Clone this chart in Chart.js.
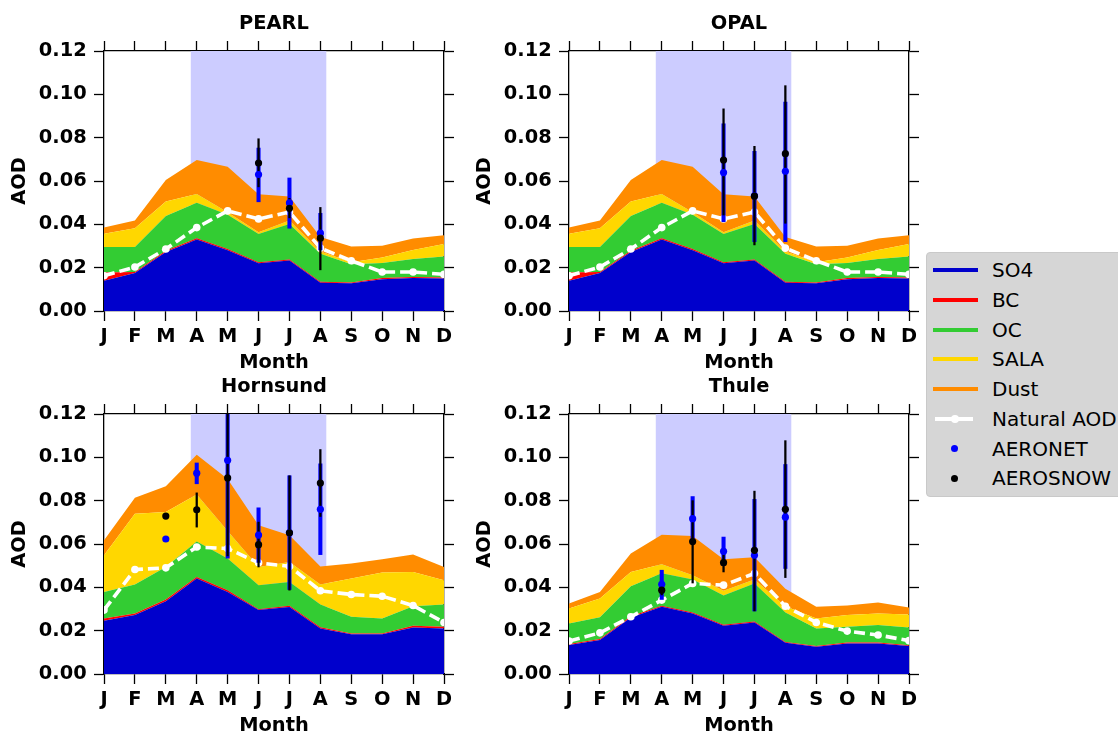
<!DOCTYPE html>
<html>
<head>
<meta charset="utf-8">
<script src="https://cdn.jsdelivr.net/npm/chart.js"></script>
<style>
  html, body { margin:0; padding:0; background:#ffffff; }
  body { width:1118px; height:734px; overflow:hidden; position:relative; font-family:"DejaVu Sans", sans-serif; }
  canvas { position:absolute; }
  #legend { position:absolute; left:926px; top:252px; width:220px; height:245px; background:#d6d6d6;
            border:1px solid #c9c9c9; border-radius:4px; box-sizing:border-box; }
  .row { position:absolute; left:0; width:220px; height:30px; }
  .sw { position:absolute; left:6px; width:45px; height:4px; top:13px; }
  .txt { position:absolute; left:65px; top:0; line-height:30px; font-size:20px; color:#000; white-space:nowrap; }
  .dot { position:absolute; width:7px; height:7px; border-radius:50%; left:24px; top:11.5px; }
</style>
</head>
<body>
<div id="legend"></div>
<script>
// ---------------- data ----------------
const months = ['J','F','M','A','M','J','J','A','S','O','N','D'];
const shadeSpan = [2.8, 7.2];           // shaded season (month index)
const yMax = 0.12;

// Eureka grid cell (PEARL and OPAL share the same model values)
const eurekaSO4  = [0.0140, 0.0175, 0.0272, 0.0330, 0.0280, 0.0220, 0.0233, 0.0130, 0.0128, 0.0147, 0.0152, 0.0150];
const eurekaBC   = [0.0038, 0.0005, 0.0006, 0.0006, 0.0006, 0.0005, 0.0005, 0.0005, 0.0004, 0.0005, 0.0005, 0.0005];
const eurekaOC   = [0.0117, 0.0115, 0.0161, 0.0164, 0.0158, 0.0130, 0.0164, 0.0129, 0.0084, 0.0069, 0.0083, 0.0097];
const eurekaSALA = [0.0061, 0.0087, 0.0066, 0.0040, 0.0012, 0.0009, 0.0016, 0.0011, 0.0009, 0.0026, 0.0042, 0.0057];
const eurekaDust = [0.0029, 0.0036, 0.0100, 0.0157, 0.0210, 0.0175, 0.0110, 0.0066, 0.0073, 0.0054, 0.0053, 0.0041];
const eurekaNatural = [0.0163, 0.0203, 0.0286, 0.0385, 0.0462, 0.0425, 0.0457, 0.0290, 0.0232, 0.0180, 0.0180, 0.0169];

const hornSO4  = [0.0246, 0.0272, 0.0336, 0.0441, 0.0379, 0.0295, 0.0309, 0.0210, 0.0184, 0.0183, 0.0215, 0.0210];
const hornBC   = [0.0010, 0.0007, 0.0008, 0.0007, 0.0008, 0.0004, 0.0006, 0.0006, 0.0003, 0.0004, 0.0008, 0.0008];
const hornOC   = [0.0123, 0.0134, 0.0150, 0.0164, 0.0146, 0.0111, 0.0110, 0.0105, 0.0077, 0.0069, 0.0090, 0.0103];
const hornSALA = [0.0169, 0.0327, 0.0254, 0.0217, 0.0127, 0.0084, 0.0092, 0.0092, 0.0177, 0.0212, 0.0158, 0.0112];
const hornDust = [0.0069, 0.0074, 0.0118, 0.0183, 0.0240, 0.0192, 0.0123, 0.0083, 0.0069, 0.0062, 0.0080, 0.0061];
const hornNatural = [0.0295, 0.0482, 0.0490, 0.0586, 0.0579, 0.0513, 0.0497, 0.0384, 0.0367, 0.0359, 0.0316, 0.0238];

const thuleSO4  = [0.0134, 0.0157, 0.0261, 0.0310, 0.0279, 0.0223, 0.0238, 0.0144, 0.0126, 0.0141, 0.0141, 0.0129];
const thuleBC   = [0.0005, 0.0005, 0.0005, 0.0005, 0.0005, 0.0004, 0.0004, 0.0004, 0.0003, 0.0004, 0.0004, 0.0004];
const thuleOC   = [0.0094, 0.0100, 0.0139, 0.0150, 0.0152, 0.0135, 0.0176, 0.0136, 0.0081, 0.0073, 0.0081, 0.0082];
const thuleSALA = [0.0069, 0.0086, 0.0066, 0.0042, 0.0020, 0.0022, 0.0018, 0.0029, 0.0046, 0.0054, 0.0053, 0.0060];
const thuleDust = [0.0023, 0.0030, 0.0085, 0.0136, 0.0181, 0.0146, 0.0103, 0.0081, 0.0054, 0.0044, 0.0051, 0.0032];
const thuleNatural = [0.0152, 0.0190, 0.0264, 0.0341, 0.0418, 0.0410, 0.0464, 0.0313, 0.0238, 0.0198, 0.0180, 0.0154];

// observations: mean, lower and upper end of the error bar
const pearlAeronet   = [null, null, null, null, null, 0.0630, 0.0499, 0.0359, null, null, null, null];
const pearlAeronetLo = [null, null, null, null, null, 0.0504, 0.0382, 0.0282, null, null, null, null];
const pearlAeronetHi = [null, null, null, null, null, 0.0752, 0.0614, 0.0451, null, null, null, null];
const pearlSnow      = [null, null, null, null, null, 0.0683, 0.0474, 0.0336, null, null, null, null];
const pearlSnowLo    = [null, null, null, null, null, 0.0573, 0.0430, 0.0190, null, null, null, null];
const pearlSnowHi    = [null, null, null, null, null, 0.0795, 0.0520, 0.0478, null, null, null, null];

const opalAeronet   = [null, null, null, null, null, 0.0639, 0.0532, 0.0645, null, null, null, null];
const opalAeronetLo = [null, null, null, null, null, 0.0412, 0.0320, 0.0320, null, null, null, null];
const opalAeronetHi = [null, null, null, null, null, 0.0864, 0.0737, 0.0964, null, null, null, null];
const opalSnow      = [null, null, null, null, null, 0.0697, 0.0530, 0.0726, null, null, null, null];
const opalSnowLo    = [null, null, null, null, null, 0.0443, 0.0305, 0.0405, null, null, null, null];
const opalSnowHi    = [null, null, null, null, null, 0.0933, 0.0760, 0.1040, null, null, null, null];

const hornAeronet   = [null, null, 0.0623, 0.0927, 0.0986, 0.0641, 0.0652, 0.0760, null, null, null, null];
const hornAeronetLo = [null, null, null,   0.0878, 0.0535, 0.0515, 0.0390, 0.0551, null, null, null, null];
const hornAeronetHi = [null, null, null,   0.0974, 0.1430, 0.0767, 0.0915, 0.0970, null, null, null, null];
const hornSnow      = [null, null, 0.0729, 0.0758, 0.0905, 0.0597, 0.0652, 0.0881, null, null, null, null];
const hornSnowLo    = [null, null, null,   0.0678, 0.0545, 0.0494, 0.0387, 0.0727, null, null, null, null];
const hornSnowHi    = [null, null, null,   0.0836, 0.1265, 0.0701, 0.0915, 0.1036, null, null, null, null];

const thuleAeronet   = [null, null, null, 0.0414, 0.0717, 0.0566, 0.0548, 0.0724, null, null, null, null];
const thuleAeronetLo = [null, null, null, 0.0344, 0.0615, 0.0500, 0.0291, 0.0487, null, null, null, null];
const thuleAeronetHi = [null, null, null, 0.0479, 0.0819, 0.0632, 0.0806, 0.0967, null, null, null, null];
const thuleSnow      = [null, null, null, 0.0387, 0.0611, 0.0514, 0.0571, 0.0760, null, null, null, null];
const thuleSnowLo    = [null, null, null, 0.0365, 0.0420, 0.0471, 0.0291, 0.0445, null, null, null, null];
const thuleSnowHi    = [null, null, null, 0.0410, 0.0800, 0.0557, 0.0844, 0.1077, null, null, null, null];

// ---------------- styles ----------------
const COLORS = { SO4:'#0000cc', BC:'#ff0000', OC:'#33cc33', SALA:'#ffd700', Dust:'#ff8c00',
                 shade:'#ccccff', aeronet:'#0000ff', snow:'#000000', natural:'#ffffff' };
const FONT_BOLD = { family:"'DejaVu Sans', sans-serif", size:19.4, weight:'bold' };

const panels = [
  { title:'PEARL', left:0, top:0,
    comps:[eurekaSO4, eurekaBC, eurekaOC, eurekaSALA, eurekaDust], natural:eurekaNatural,
    aer:[pearlAeronet, pearlAeronetLo, pearlAeronetHi], snow:[pearlSnow, pearlSnowLo, pearlSnowHi] },
  { title:'OPAL', left:465, top:0,
    comps:[eurekaSO4, eurekaBC, eurekaOC, eurekaSALA, eurekaDust], natural:eurekaNatural,
    aer:[opalAeronet, opalAeronetLo, opalAeronetHi], snow:[opalSnow, opalSnowLo, opalSnowHi] },
  { title:'Hornsund', left:0, top:363,
    comps:[hornSO4, hornBC, hornOC, hornSALA, hornDust], natural:hornNatural,
    aer:[hornAeronet, hornAeronetLo, hornAeronetHi], snow:[hornSnow, hornSnowLo, hornSnowHi] },
  { title:'Thule', left:465, top:363,
    comps:[thuleSO4, thuleBC, thuleOC, thuleSALA, thuleDust], natural:thuleNatural,
    aer:[thuleAeronet, thuleAeronetLo, thuleAeronetHi], snow:[thuleSnow, thuleSnowLo, thuleSnowHi] }
];
const compNames = ['SO4','BC','OC','SALA','Dust'];

const toRange = (lo, hi) => lo.map((v, i) => (v == null ? null : [v, hi[i]]));

function frameGrid() {
  return { display:true, drawOnChartArea:false, drawTicks:true, tickLength:10, tickWidth:1.3,
           tickColor:'#000', color:'#000', offset:false };
}
const frameBorder = { display:true, color:'#000', width:1.3 };

function makePanel(p) {
  const cv = document.createElement('canvas');
  cv.width = 460; cv.height = 380;
  cv.style.left = p.left + 'px'; cv.style.top = p.top + 'px';
  cv.style.width = '460px'; cv.style.height = '380px';
  document.body.appendChild(cv);

  const datasets = [];
  p.comps.forEach((arr, k) => {
    datasets.push({ type:'line', label:compNames[k], data:arr, stack:'model',
      fill: k === 0 ? 'origin' : '-1', backgroundColor:COLORS[compNames[k]], borderColor:COLORS[compNames[k]],
      borderWidth:0, pointRadius:0, tension:0, order:50, xAxisID:'x', yAxisID:'y' });
  });
  datasets.push({ type:'line', label:'Natural AOD', data:p.natural, borderColor:COLORS.natural,
    borderWidth:3.6, borderDash:[11,5], pointRadius:3.8, pointBackgroundColor:COLORS.natural,
    pointBorderWidth:0, fill:false, tension:0, order:10, clip:0, xAxisID:'x', yAxisID:'y' });
  datasets.push({ type:'bar', label:'AERONET err', data:toRange(p.aer[1], p.aer[2]), backgroundColor:COLORS.aeronet,
    borderWidth:0, barThickness:3.4, grouped:false, order:4, clip:0, xAxisID:'x', yAxisID:'y' });
  datasets.push({ type:'bar', label:'AEROSNOW err', data:toRange(p.snow[1], p.snow[2]), backgroundColor:COLORS.snow,
    borderWidth:0, barThickness:1.6, grouped:false, order:3, clip:0, xAxisID:'x', yAxisID:'y' });
  datasets.push({ type:'line', label:'AERONET', data:p.aer[0], showLine:false, pointRadius:3.6,
    pointBackgroundColor:COLORS.aeronet, pointBorderWidth:0, order:2, clip:0, xAxisID:'x', yAxisID:'y' });
  datasets.push({ type:'line', label:'AEROSNOW', data:p.snow[0], showLine:false, pointRadius:3.6,
    pointBackgroundColor:COLORS.snow, pointBorderWidth:0, order:1, clip:0, xAxisID:'x', yAxisID:'y' });
  datasets.push({ type:'line', label:'season', data:[{x:shadeSpan[0], y:yMax}, {x:shadeSpan[1], y:yMax}],
    fill:'origin', backgroundColor:COLORS.shade, borderWidth:0, pointRadius:0, order:100, xAxisID:'x', yAxisID:'y' });

  new Chart(cv, {
    type:'line',
    data:{ labels: months.map((_, i) => i), datasets },
    options:{
      responsive:false, animation:false, devicePixelRatio:1, events:[],
      layout:{ padding:0 },
      plugins:{ legend:{ display:false }, tooltip:{ enabled:false }, title:{ display:false } },
      scales:{
        x:{ type:'linear', position:'bottom', min:0, max:11, offset:false,
            ticks:{ stepSize:1, maxTicksLimit:20, autoSkip:false, maxRotation:0, padding:4, color:'#000',
                    font:FONT_BOLD, callback:(v) => months[v] },
            grid:frameGrid(), border:frameBorder,
            title:{ display:true, text:'Month', color:'#000', font:FONT_BOLD, padding:{top:0, bottom:5.8} },
            afterFit:(s) => { s.height = 69; } },
        y:{ type:'linear', position:'left', min:0, max:yMax,
            ticks:{ stepSize:0.02, maxTicksLimit:20, padding:7.3, color:'#000', font:FONT_BOLD,
                    callback:(v) => Number(v).toFixed(2) },
            grid:frameGrid(), border:frameBorder,
            title:{ display:true, text:'AOD', color:'#000', font:FONT_BOLD, padding:{top:8.4, bottom:0} },
            afterFit:(s) => { s.width = 104; } },
        x2:{ type:'linear', position:'top', min:0, max:11, offset:false, display:true,
            ticks:{ display:false, stepSize:1, maxTicksLimit:20 },
            grid:frameGrid(), border:frameBorder,
            title:{ display:true, text:p.title, color:'#000', font:FONT_BOLD, padding:{top:12.4, bottom:0} },
            afterFit:(s) => { s.height = 51; } },
        y2:{ type:'linear', position:'right', min:0, max:yMax, display:true,
            ticks:{ display:false, stepSize:0.02, maxTicksLimit:20 },
            grid:frameGrid(), border:frameBorder,
            afterFit:(s) => { s.width = 16; } }
      }
    }
  });
}

Chart.defaults.font.family = "'DejaVu Sans', sans-serif";
panels.forEach(makePanel);

// ---------------- legend ----------------
const legendItems = [
  { label:'SO4', kind:'line', color:COLORS.SO4 },
  { label:'BC', kind:'line', color:COLORS.BC },
  { label:'OC', kind:'line', color:COLORS.OC },
  { label:'SALA', kind:'line', color:COLORS.SALA },
  { label:'Dust', kind:'line', color:COLORS.Dust },
  { label:'Natural AOD', kind:'natural', color:COLORS.natural },
  { label:'AERONET', kind:'dot', color:COLORS.aeronet },
  { label:'AEROSNOW', kind:'dot', color:COLORS.snow }
];
const leg = document.getElementById('legend');
legendItems.forEach((it, i) => {
  const row = document.createElement('div');
  row.className = 'row';
  row.style.top = (2 + i * 29.76) + 'px';
  if (it.kind === 'line') {
    const s = document.createElement('div'); s.className = 'sw'; s.style.background = it.color; row.appendChild(s);
  } else if (it.kind === 'natural') {
    const s = document.createElement('div'); s.className = 'sw';
    s.style.background = it.color; s.style.left = '8px'; s.style.width = '38px'; row.appendChild(s);
    const d = document.createElement('div'); d.className = 'dot'; d.style.background = it.color;
    d.style.width = '8px'; d.style.height = '8px'; d.style.top = '11px'; row.appendChild(d);
  } else {
    const d = document.createElement('div'); d.className = 'dot'; d.style.background = it.color; row.appendChild(d);
  }
  const t = document.createElement('div'); t.className = 'txt'; t.textContent = it.label; row.appendChild(t);
  leg.appendChild(row);
});
</script>
</body>
</html>
